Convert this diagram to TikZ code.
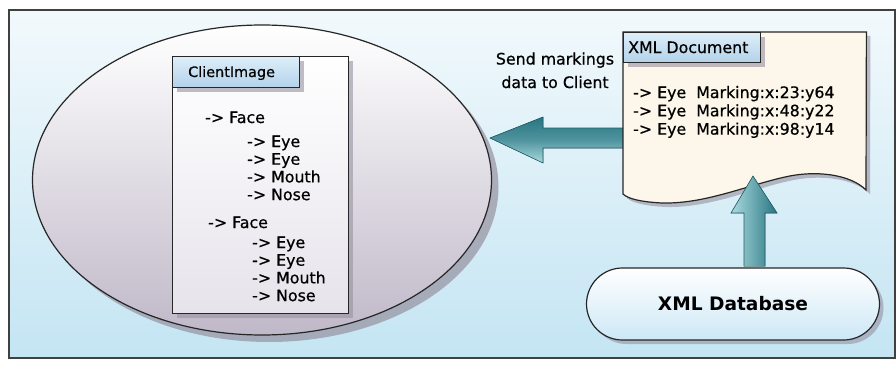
\documentclass[tikz,border=0pt]{standalone}
\usepackage{fontspec}
\setmainfont{DejaVu Sans}
\newfontfamily\heavyfont{DejaVu Sans}[FakeBold=0.6]
\usetikzlibrary{shadows,calc,shapes.geometric}
\definecolor{bgtop}{RGB}{242,249,252}
\definecolor{bgbot}{RGB}{196,229,243}
\definecolor{elbot}{RGB}{192,184,200}
\definecolor{boxbot}{RGB}{230,227,235}
\definecolor{hdtop}{RGB}{222,238,249}
\definecolor{hdbot}{RGB}{178,210,234}
\definecolor{docfill}{RGB}{253,246,234}
\definecolor{dbbot}{RGB}{205,232,246}
\definecolor{tealdark}{RGB}{40,118,130}
\definecolor{teallight}{RGB}{170,218,222}
\definecolor{shadowc}{RGB}{150,145,160}
\tikzset{
  outline/.style={draw=black!85, line width=1.2pt},
  shad/.style={drop shadow={shadow xshift=4pt, shadow yshift=-4pt, fill=shadowc, opacity=0.6}},
  hdr/.style={outline, top color=hdtop, bottom color=hdbot, shad},
  txt/.style={inner sep=0pt, anchor=base west, font=\heavyfont\fontsize{15.8}{17.7}\selectfont},
  hdtxt/.style={inner sep=0pt, anchor=base west},
  blockarrow/.style={draw=tealdark!80!black, line width=0.6pt},
}
\begin{document}
\begin{tikzpicture}[x=1pt,y=-1pt]
\useasboundingbox (0,0) rectangle (896,369);
\fill[white] (0,0) rectangle (896,369);
\shade[top color=bgtop, bottom color=bgbot] (9,10) rectangle (895,358);
\draw[line width=1.5pt, black!75] (9,10) rectangle (895,358);

% client ellipse
\node[ellipse, minimum width=459, minimum height=310, outline, top color=white, bottom color=elbot,
      drop shadow={shadow xshift=7pt, shadow yshift=-7pt, fill=shadowc, opacity=0.7}] (client) at (262,180) {};

% ClientImage box
\node[outline, fill=white, top color=white, bottom color=boxbot, shad, anchor=north west,
      minimum width=176, minimum height=257, inner sep=0pt] (cbox) at (172,56) {};
\node[hdr, anchor=north west, minimum width=127, minimum height=31, inner sep=0pt] (chead) at (172,56) {};
\node[hdtxt, font=\heavyfont\fontsize{14.4}{16}\selectfont] (ctitle) at (188,77) {ClientImage};

\node[txt] (f1) at (205,123) {-> Face};
\node[txt] (f1a) at (247,147) {-> Eye};
\node[txt] (f1b) at (247,164.7) {-> Eye};
\node[txt] (f1c) at (247,182.4) {-> Mouth};
\node[txt] (f1d) at (247,200.1) {-> Nose};
\node[txt] (f2) at (208,228) {-> Face};
\node[txt] (f2a) at (252,248) {-> Eye};
\node[txt] (f2b) at (252,265.7) {-> Eye};
\node[txt] (f2c) at (252,283.4) {-> Mouth};
\node[txt] (f2d) at (252,301.1) {-> Nose};

% XML document
\node[anchor=north west, minimum width=243, minimum height=165, inner sep=0pt] (doc) at (623,32) {};
\coordinate (tipL) at (490,138);
\fill[top color=tealdark, bottom color=teallight, middle color=tealdark!70!teallight]
  ($(doc.north west)+(2,96)$) -- (543,128) -- (543,117) -- (tipL) -- (543,163) -- (543,148) -- ($(doc.north west)+(2,116)$) -- cycle;
\draw[blockarrow]
  ($(doc.north west)+(2,96)$) -- (543,128) -- (543,117) -- (tipL) -- (543,163) -- (543,148) -- ($(doc.north west)+(2,116)$);

\draw[outline, fill=docfill, shad]
  (doc.north west) -- (doc.north east) -- (866,190)
  .. controls (850,174) and (815,170) .. (785,177)
  .. controls (745,186) and (705,204) .. (662,203)
  .. controls (642,202) and (628,199) .. (623,194) -- cycle;
\node[hdr, anchor=north west, minimum width=137, minimum height=30, inner sep=0pt] (dhead) at (doc.north west) {};
\node[hdtxt, font=\heavyfont\fontsize{15.8}{17}\selectfont] (dtitle) at (628,53) {XML Document};
\node[txt] (m1) at (633,98) {-> Eye\ \ Marking:x:23:y64};
\node[txt] (m2) at (633,116.3) {-> Eye\ \ Marking:x:48:y22};
\node[txt] (m3) at (633,134.6) {-> Eye\ \ Marking:x:98:y14};

\node[inner sep=0pt, align=center, font=\heavyfont\fontsize{15.8}{23.5}\selectfont, anchor=base] (lbl) at (555,88) {Send markings\\data to Client};

% database
\node[outline, rounded corners=36pt, minimum width=293, minimum height=72, inner sep=0pt,
      top color=white, bottom color=dbbot, shad, font=\bfseries\fontsize{18.6}{20}\selectfont] (db) at (733,304) {XML Database};

% up arrow
\coordinate (tipU) at (753,176);
\fill[left color=teallight, right color=tealdark]
  ($(db.north)+(11,-1)$) -- (744,213) -- (731,213) -- (tipU) -- (777,213) -- (765,213) -- ($(db.north)+(32,-1)$) -- cycle;
\draw[blockarrow]
  ($(db.north)+(11,-1)$) -- (744,213) -- (731,213) -- (tipU) -- (777,213) -- (765,213) -- ($(db.north)+(32,-1)$);
\end{tikzpicture}
\end{document}
